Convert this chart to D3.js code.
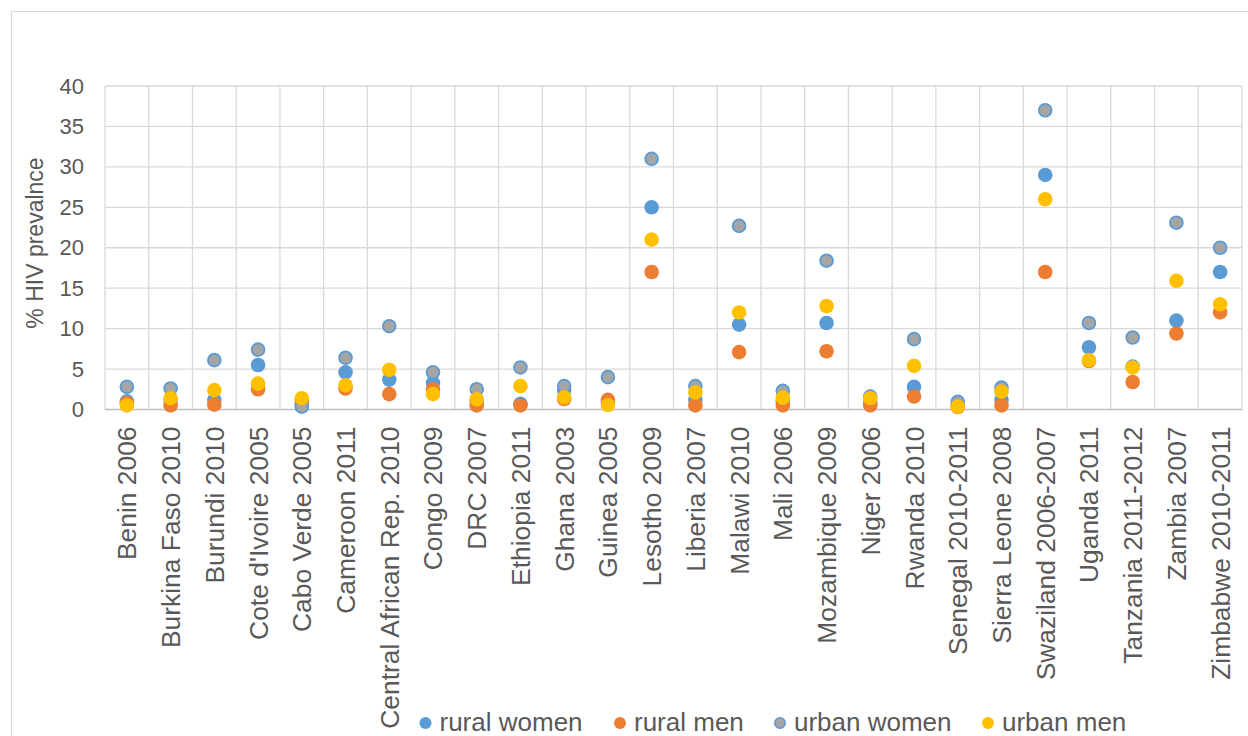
<!DOCTYPE html>
<html>
<head>
<meta charset="utf-8">
<script src="https://cdn.jsdelivr.net/npm/d3@7"></script>
<style>
  html, body { margin: 0; padding: 0; background: #fff; }
  svg { display: block; font-family: "Liberation Sans", Arial, sans-serif; }
</style>
</head>
<body>
<svg id="chart" width="1248" height="736"></svg>
<script>
// HIV prevalence by survey, rural/urban, women/men
const categories = ["Benin 2006","Burkina Faso 2010","Burundi 2010","Cote d'Ivoire 2005","Cabo Verde 2005","Cameroon 2011","Central African Rep. 2010","Congo 2009","DRC 2007","Ethiopia 2011","Ghana 2003","Guinea 2005","Lesotho 2009","Liberia 2007","Malawi 2010","Mali 2006","Mozambique 2009","Niger 2006","Rwanda 2010","Senegal 2010-2011","Sierra Leone 2008","Swaziland 2006-2007","Uganda 2011","Tanzania 2011-2012","Zambia 2007","Zimbabwe 2010-2011"];
const ruralWomen = [1.0,1.2,1.2,5.5,0.6,4.6,3.7,3.3,1.0,0.7,2.4,0.8,25.0,1.2,10.5,1.0,10.7,0.9,2.8,0.5,1.2,29.0,7.7,5.3,11.0,17.0];
const ruralMen   = [0.8,0.5,0.6,2.5,1.0,2.6,1.9,2.5,0.5,0.5,1.3,1.2,17.0,0.5,7.1,0.5,7.2,0.5,1.6,0.3,0.5,17.0,6.0,3.4,9.4,12.0];
const urbanWomen = [2.8,2.6,6.1,7.4,0.35,6.4,10.3,4.6,2.5,5.2,2.9,4.0,31.0,2.9,22.7,2.3,18.4,1.6,8.7,0.95,2.7,37.0,10.7,8.9,23.1,20.0];
const urbanMen   = [0.5,1.4,2.4,3.2,1.4,3.0,4.9,1.9,1.25,2.9,1.5,0.55,21.0,2.1,12.0,1.45,12.8,1.4,5.4,0.35,2.2,26.0,6.1,5.2,15.9,13.0];
const yTicks = [0,5,10,15,20,25,30,35,40];
const seriesNames = ["rural women","rural men","urban women","urban men"];

const series = [
  {name: seriesNames[0], values: ruralWomen, fill: "#5B9BD5", stroke: "none"},
  {name: seriesNames[1], values: ruralMen,   fill: "#ED7D31", stroke: "none"},
  {name: seriesNames[2], values: urbanWomen, fill: "#A5A5A5", stroke: "#5B9BD5"},
  {name: seriesNames[3], values: urbanMen,   fill: "#FFC000", stroke: "none"}
];

const svg = d3.select("#chart");
const plot = {left: 105, right: 1242, top: 86, bottom: 409.5};
const textColor = "#595959";

// outer chart frame
svg.append("rect")
  .attr("x", 11.5).attr("y", 11.5)
  .attr("width", 1260).attr("height", 760)
  .attr("fill", "#fff").attr("stroke", "#d9d9d9").attr("stroke-width", 1);

const x = d3.scaleBand().domain(categories).range([plot.left, plot.right]).padding(0);
const y = d3.scaleLinear().domain([0, 40]).range([plot.bottom, plot.top]);

// horizontal gridlines
svg.append("g").selectAll("line").data(yTicks.filter(d => d > 0)).join("line")
  .attr("x1", plot.left).attr("x2", plot.right)
  .attr("y1", d => y(d)).attr("y2", d => y(d))
  .attr("stroke", "#d9d9d9").attr("stroke-width", 1.3);

// vertical gridlines at category boundaries
const bounds = categories.map(c => x(c)).concat([x(categories[categories.length - 1]) + x.bandwidth()]);
svg.append("g").selectAll("line").data(bounds).join("line")
  .attr("x1", d => d).attr("x2", d => d)
  .attr("y1", plot.top).attr("y2", plot.bottom)
  .attr("stroke", "#d9d9d9").attr("stroke-width", 1.3);

// baseline
svg.append("line")
  .attr("x1", plot.left).attr("x2", plot.right)
  .attr("y1", y(0)).attr("y2", y(0))
  .attr("stroke", "#bfbfbf").attr("stroke-width", 1.3);

// y axis labels
const yAxis = d3.axisLeft(y).tickValues(yTicks).tickSize(0).tickPadding(0).tickFormat(d3.format("d"));
const yg = svg.append("g").attr("transform", `translate(${plot.left - 21},0)`).call(yAxis);
yg.select(".domain").remove();
yg.selectAll("text")
  .attr("fill", textColor).attr("font-size", 22)
  .attr("font-family", "Liberation Sans, Arial, sans-serif");

// x axis labels, rotated
const xAxis = d3.axisBottom(x).tickSize(0).tickPadding(0);
const xg = svg.append("g").attr("transform", `translate(0,${plot.bottom})`).call(xAxis);
xg.select(".domain").remove();
xg.selectAll("text")
  .attr("fill", textColor).attr("font-size", 26.4)
  .attr("font-family", "Liberation Sans, Arial, sans-serif")
  .attr("text-anchor", "end")
  .attr("transform", "translate(0,17) rotate(-90)")
  .attr("x", 0).attr("y", 0).attr("dy", "0.36em");

// y axis title
svg.append("text")
  .attr("transform", `translate(43,243) rotate(-90)`)
  .attr("text-anchor", "middle")
  .attr("fill", textColor).attr("font-size", 23)
  .text("% HIV prevalnce");

// markers
const r = 7.3;
series.forEach(s => {
  svg.append("g").selectAll("circle").data(s.values).join("circle")
    .attr("cx", (d, i) => x(categories[i]) + x.bandwidth() / 2)
    .attr("cy", d => y(d))
    .attr("r", s.stroke === "none" ? r : r - 0.9)
    .attr("fill", s.fill)
    .attr("stroke", s.stroke)
    .attr("stroke-width", s.stroke === "none" ? 0 : 1.8);
});

// legend
const legendX = [425.5, 620, 780, 988];
const legend = svg.append("g");
series.forEach((s, i) => {
  legend.append("circle")
    .attr("cx", legendX[i]).attr("cy", 723)
    .attr("r", s.stroke === "none" ? 6 : 5.3)
    .attr("fill", s.fill).attr("stroke", s.stroke)
    .attr("stroke-width", s.stroke === "none" ? 0 : 1.5);
  legend.append("text")
    .attr("x", legendX[i] + 14).attr("y", 731)
    .attr("fill", textColor).attr("font-size", 26)
    .text(s.name);
});
</script>
</body>
</html>
